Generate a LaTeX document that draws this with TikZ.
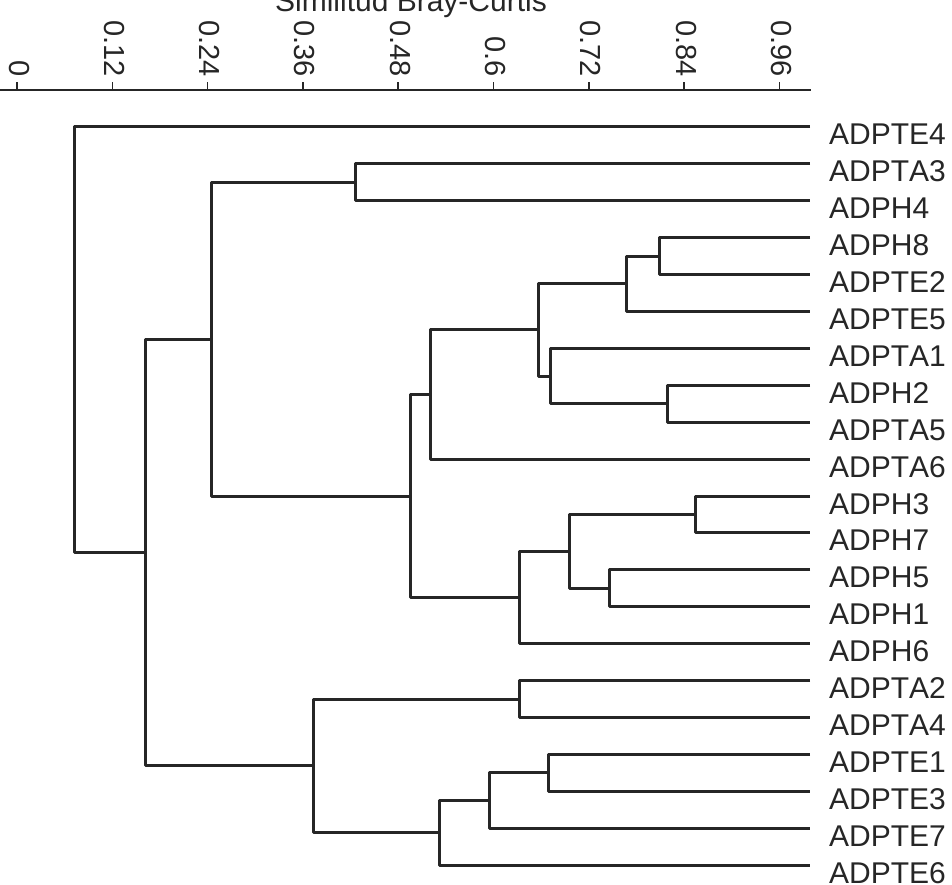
\documentclass[tikz,border=0pt]{standalone}
\usepackage{fontspec}
\setmainfont{Liberation Sans}[Kerning=Off]

\begin{document}
\begin{tikzpicture}[x = 1pt, y = -1pt,
	branch/.style = {line width = 3pt, black!85, line join = round},
	leaf/.style = {anchor = base west, inner sep = 0pt, text = black!85, font = \fontsize{30}{36}\selectfont},
	ticklab/.style = {rotate = -90, anchor = east, inner sep = 0pt, text = black!85, font = \fontsize{29}{34}\selectfont}]

	\useasboundingbox (0, 0) rectangle (952, 885);

	% Axis
	
	\node [anchor = base, inner sep = 0pt, text = black!85, font = \fontsize{30}{36}\selectfont] (title) at (411, 12) {Similitud Bray-Curtis};
	\draw [line width = 2pt, black!85] (0, 90) -- (811, 90);
	\foreach \lab [count = \k from 0] in {0,0.12,0.24,0.36,0.48,0.6,0.72,0.84,0.96} {
		\draw [line width = 1.5pt, black!85] (17 + 95.3*\k, 90) -- ++(0, -8);
		\node [ticklab] (tick\k) at (19 + 95.3*\k, 77) {\lab};
	}
	
	% Leaves
	
	\foreach \lab [count = \i from 0] in {ADPTE4,ADPTA3,ADPH4,ADPH8,ADPTE2,ADPTE5,ADPTA1,ADPH2,ADPTA5,ADPTA6,ADPH3,ADPH7,ADPH5,ADPH1,ADPH6,ADPTA2,ADPTA4,ADPTE1,ADPTE3,ADPTE7,ADPTE6} {
		\coordinate (\lab) at (810, 127 + 36.9*\i);
		\node [leaf] (t\lab) at (829, 145 + 36.9*\i) {\lab};
	}
	
	% Joins
	
	\coordinate (D) at (355, 182.4);
	\coordinate (K) at (659, 256.2);
	\coordinate (I) at (626, 283.8);
	\coordinate (L) at (667, 403.8);
	\coordinate (J) at (550, 376.1);
	\coordinate (H) at (538, 329.9);
	\coordinate (F) at (430, 394.5);
	\coordinate (N) at (695, 514.5);
	\coordinate (O) at (609, 588.3);
	\coordinate (M) at (569, 551.4);
	\coordinate (G) at (519, 597.5);
	\coordinate (E) at (410, 496);
	\coordinate (B) at (211, 339.2);
	\coordinate (P) at (519, 699);
	\coordinate (S) at (548, 772.8);
	\coordinate (R) at (489, 800.4);
	\coordinate (Q) at (439, 832.7);
	\coordinate (C) at (313, 765.8);
	\coordinate (A) at (145, 552.5);
	\coordinate (root) at (74, 339.8);
	
	% Branches
	
	\draw [branch] (ADPH8) -| (K) |- (ADPTE2);
	\draw [branch] (K) -| (I) |- (ADPTE5);
	\draw [branch] (ADPH2) -| (L) |- (ADPTA5);
	\draw [branch] (ADPTA1) -| (J) |- (L);
	\draw [branch] (I) -| (H) |- (J);
	\draw [branch] (H) -| (F) |- (ADPTA6);
	\draw [branch] (ADPH3) -| (N) |- (ADPH7);
	\draw [branch] (ADPH5) -| (O) |- (ADPH1);
	\draw [branch] (N) -| (M) |- (O);
	\draw [branch] (M) -| (G) |- (ADPH6);
	\draw [branch] (F) -| (E) |- (G);
	\draw [branch] (ADPTA3) -| (D) |- (ADPH4);
	\draw [branch] (D) -| (B) |- (E);
	\draw [branch] (ADPTA2) -| (P) |- (ADPTA4);
	\draw [branch] (ADPTE1) -| (S) |- (ADPTE3);
	\draw [branch] (S) -| (R) |- (ADPTE7);
	\draw [branch] (R) -| (Q) |- (ADPTE6);
	\draw [branch] (P) -| (C) |- (Q);
	\draw [branch] (B) -| (A) |- (C);
	\draw [branch] (ADPTE4) -| (root) |- (A);

\end{tikzpicture}
\end{document}
